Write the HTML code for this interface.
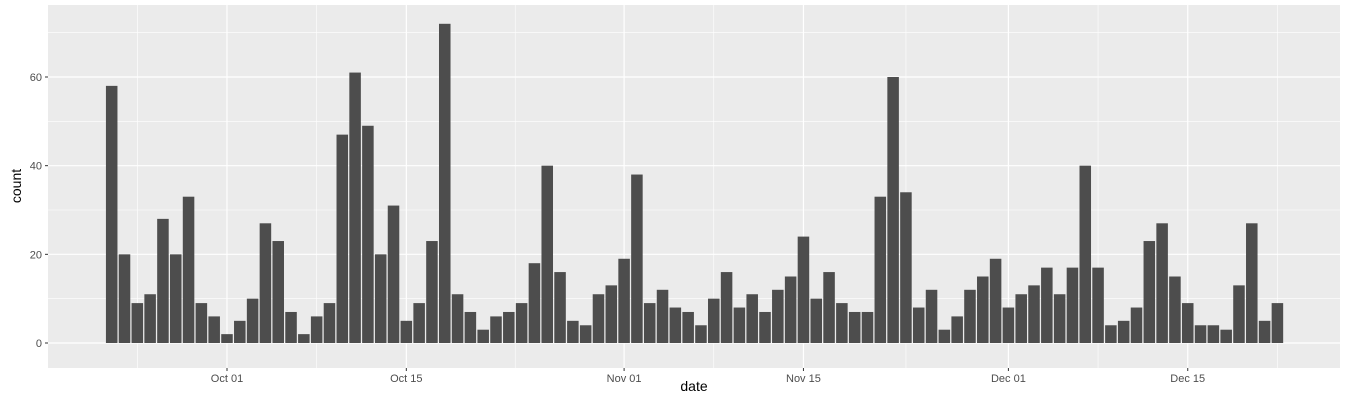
<!DOCTYPE html>
<html><head><meta charset="utf-8"><style>
html,body{margin:0;padding:0;background:#fff;}
svg{display:block;font-family:"Liberation Sans",sans-serif;}
</style></head><body>
<svg id="chart" width="1350" height="400"></svg>
<script>
const startDate = "2017-09-22";
const counts = [58,20,9,11,28,20,33,9,6,2,5,10,27,23,7,2,6,9,47,61,49,20,31,5,9,23,72,11,7,3,6,7,9,18,40,16,5,4,11,13,19,38,9,12,8,7,4,10,16,8,11,7,12,15,24,10,16,9,7,7,33,60,34,8,12,3,6,12,15,19,8,11,13,17,11,17,40,17,4,5,8,23,27,15,9,4,4,3,13,27,5,9];
const xTickLabels = ["Oct 01","Oct 15","Nov 01","Nov 15","Dec 01","Dec 15"];
const xTickOffsets = [9,23,40,54,70,84];
const xMinorOffsets = [2,16,31.5,47,62,77,91];
const yTicks = [0,20,40,60];
const yMinor = [10,30,50,70];

const NS="http://www.w3.org/2000/svg";
const svg=document.getElementById('chart');
const P={l:48,r:1340,t:5,b:368};
const x0=111.7, dayPx=12.81;
function xs(i){return x0+i*dayPx;}
const y0=343, unitPx=266/60;
function ys(v){return y0-v*unitPx;}
function el(tag,attrs,parent){const e=document.createElementNS(NS,tag);for(const k in attrs)e.setAttribute(k,attrs[k]);(parent||svg).appendChild(e);return e;}

const panel=el('rect',{x:P.l,y:P.t,width:P.r-P.l,height:P.b-P.t,fill:'#ebebeb'});



yMinor.forEach(v=>{const l=el('line',{x1:P.l,x2:P.r,y1:ys(v),y2:ys(v),stroke:'#fff','stroke-width':0.6});

});
xMinorOffsets.forEach(o=>{const l=el('line',{x1:xs(o),x2:xs(o),y1:P.t,y2:P.b,stroke:'#fff','stroke-width':0.6});

});
yTicks.forEach(v=>{const l=el('line',{x1:P.l,x2:P.r,y1:ys(v),y2:ys(v),stroke:'#fff','stroke-width':1.2});


const t=el('line',{x1:P.l-3,x2:P.l,y1:ys(v),y2:ys(v),stroke:'#333','stroke-width':1});


const tx=el('text',{x:P.l-6,y:ys(v)+4,'text-anchor':'end','font-size':11,fill:'#4d4d4d'});tx.textContent=v;

});
xTickOffsets.forEach((o,i)=>{const l=el('line',{x1:xs(o),x2:xs(o),y1:P.t,y2:P.b,stroke:'#fff','stroke-width':1.2});


const t=el('line',{x1:xs(o),x2:xs(o),y1:P.b,y2:P.b+3,stroke:'#333','stroke-width':1});


const tx=el('text',{x:xs(o),y:P.b+14,'text-anchor':'middle','font-size':11,fill:'#4d4d4d'});tx.textContent=xTickLabels[i];

});

const bw=dayPx*0.9;
counts.forEach((v,i)=>{const b=el('rect',{x:xs(i)-bw/2,y:ys(v),width:bw,height:y0-ys(v),fill:'#4d4d4d'});

});

const xt=el('text',{x:694,y:391,'text-anchor':'middle','font-size':14,fill:'#000'});xt.textContent='date';


const yt=el('text',{x:0,y:0,'text-anchor':'middle','font-size':14,fill:'#000',transform:'translate(21,186) rotate(-90)'});yt.textContent='count';


</script>
</body></html>
